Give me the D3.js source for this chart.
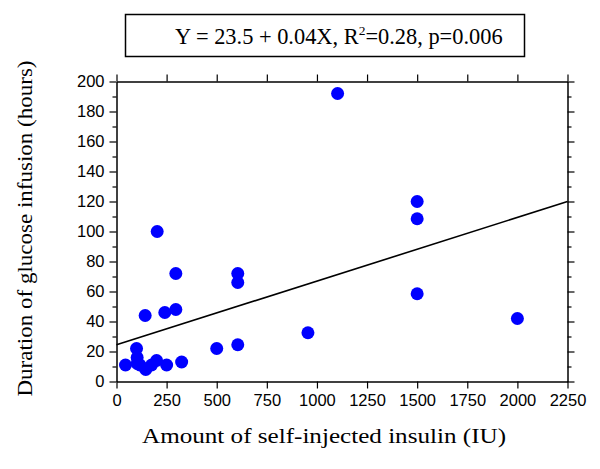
<!DOCTYPE html>
<html>
<head>
<meta charset="utf-8">
<script src="https://cdn.jsdelivr.net/npm/d3@7"></script>
<style>
  body { margin: 0; background: #fff; }
  svg { display: block; }
</style>
</head>
<body>
<svg id="chart" width="600" height="469"></svg>
<script>
// insulin dose (IU) vs glucose infusion duration (hours)
const insulin = [45, 100, 103, 103, 117, 146, 175, 200, 250, 325, 143, 203, 241, 296, 296, 500, 605, 605, 605, 955, 1103, 1500, 1500, 1500, 2000];
const duration = [11, 22, 16, 12, 11, 8, 11, 14, 11, 13, 44, 100, 46, 48, 72, 22, 72, 66, 24.5, 32.5, 192, 120, 108.5, 58.5, 42];
const fitX = [0, 2250];
const fitY = [24.5, 120];
const xTicks = [0, 250, 500, 750, 1000, 1250, 1500, 1750, 2000, 2250];
const yTicks = [0, 20, 40, 60, 80, 100, 120, 140, 160, 180, 200];
const yMinor = d3.range(10, 200, 20);

const margin = { top: 81.5, right: 32.5, bottom: 87.5, left: 116.5 };
const width = 600, height = 469;
const innerWidth = width - margin.left - margin.right;
const innerHeight = height - margin.top - margin.bottom;

const svg = d3.select("#chart");
const g = svg.append("g").attr("transform", `translate(${margin.left},${margin.top})`);

const x = d3.scaleLinear().domain([0, 2250]).range([0, innerWidth]);
const y = d3.scaleLinear().domain([0, 200]).range([innerHeight, 0]);

const sans = "'Liberation Sans', Arial, sans-serif";
const serif = "'Liberation Serif', 'Times New Roman', serif";

function styleAxis(sel) {
  sel.select(".domain").attr("stroke", "#000").attr("stroke-width", 1.5);
  sel.selectAll(".tick line").attr("stroke", "#000").attr("stroke-width", 1.2);
  sel.selectAll(".tick text").attr("fill", "#000").style("font-family", sans).style("font-size", "16.5px");
}
// axes without labels: drop the empty text nodes
function bare(sel) {
  styleAxis(sel);
  sel.selectAll(".tick text").remove();
}

// minor ticks first so major axes sit on top
g.append("g").call(d3.axisLeft(y).tickValues(yMinor).tickSize(4))
  .call(s => { bare(s); s.select(".domain").remove(); });
g.append("g").attr("transform", `translate(${innerWidth},0)`)
  .call(d3.axisRight(y).tickValues(yMinor).tickSize(4))
  .call(s => { bare(s); s.select(".domain").remove(); });

g.append("g").attr("transform", `translate(0,${innerHeight})`)
  .call(d3.axisBottom(x).tickValues(xTicks).tickSizeInner(7).tickSizeOuter(0).tickPadding(6).tickFormat(d3.format("d")))
  .call(styleAxis);
g.append("g")
  .call(d3.axisTop(x).tickValues(xTicks).tickSizeInner(7).tickSizeOuter(0))
  .call(bare);
g.append("g")
  .call(d3.axisLeft(y).tickValues(yTicks).tickSizeInner(7).tickSizeOuter(0).tickPadding(5))
  .call(styleAxis);
g.append("g").attr("transform", `translate(${innerWidth},0)`)
  .call(d3.axisRight(y).tickValues(yTicks).tickSizeInner(7).tickSizeOuter(0))
  .call(bare);

// regression line
g.append("path")
  .datum(fitX.map((d, i) => [d, fitY[i]]))
  .attr("fill", "none")
  .attr("stroke", "#000")
  .attr("stroke-width", 1.6)
  .attr("d", d3.line().x(d => x(d[0])).y(d => y(d[1])));

g.selectAll("circle")
  .data(insulin.map((d, i) => ({ x: d, y: duration[i] })))
  .join("circle")
  .attr("cx", d => x(d.x))
  .attr("cy", d => y(d.y))
  .attr("r", 6.5)
  .attr("fill", "#0000ff");

// axis titles (source image is a bit stretched sideways)
svg.append("text")
  .attr("x", 142)
  .attr("y", 442.5)
  .attr("textLength", 364)
  .attr("lengthAdjust", "spacingAndGlyphs")
  .style("font-family", serif)
  .style("font-size", "20px")
  .text("Amount of self-injected insulin (IU)");

svg.append("text")
  .attr("transform", "translate(32,396.5) rotate(-90)")
  .attr("textLength", 336)
  .attr("lengthAdjust", "spacingAndGlyphs")
  .style("font-family", serif)
  .style("font-size", "22px")
  .text("Duration of glucose infusion (hours)");

// equation box
svg.append("rect")
  .attr("x", 125.5).attr("y", 14.5)
  .attr("width", 399).attr("height", 42)
  .attr("fill", "none")
  .attr("stroke", "#000")
  .attr("stroke-width", 1.5);

const eq = svg.append("text")
  .attr("x", 175)
  .attr("y", 44.3)
  .style("font-family", serif)
  .style("font-size", "22.4px");
eq.append("tspan").text("Y = 23.5 + 0.04X, R");
eq.append("tspan").attr("dy", -9).style("font-size", "13.5px").text("2");
eq.append("tspan").attr("dy", 9).text("=0.28, p=0.006");
</script>
</body>
</html>
